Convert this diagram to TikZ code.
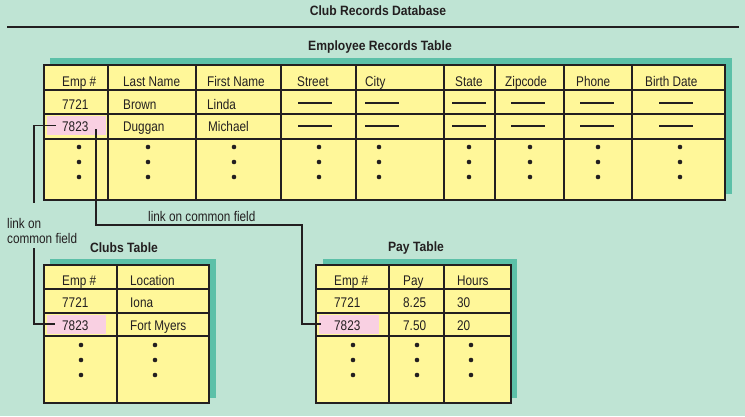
\documentclass[tikz,border=0pt]{standalone}
\usepackage{fontspec}
\setmainfont{Liberation Sans}[FakeStretch=0.84]
\newfontfamily\ttlfont{Liberation Sans}[FakeStretch=0.9]
\definecolor{bg}{HTML}{BFE4D4}
\definecolor{shade}{HTML}{5CC0A8}
\definecolor{cellc}{HTML}{FFF799}
\definecolor{pinkc}{HTML}{F9D0E2}
\definecolor{ink}{HTML}{231F20}
\begin{document}
\begin{tikzpicture}[x=1pt,y=-1pt,
  txt/.style={anchor=base west,inner sep=0pt,font=\fontsize{14}{15}\selectfont,text=ink},
  ttl/.style={anchor=base,inner sep=0pt,font=\ttlfont\bfseries\fontsize{13.5}{15}\selectfont,text=ink},
  tabline/.style={draw=ink,line width=1.5pt},
  shadowbox/.style={fill=shade},
  pinkcell/.style={fill=pinkc,draw=none,minimum width=59pt,minimum height=19pt,inner sep=0pt},
  dashln/.style={line width=2pt,draw=ink},
  link/.style={line width=1.7pt,draw=ink}]
\useasboundingbox (0,0) rectangle (745,416);
\fill[bg] (0,0) rectangle (745,416);

% titles
\node[ttl] (title) at (378,15) {Club Records Database};
\draw[line width=2pt,ink] (7,27) -- (739,27);
\node[ttl] (empTitle) at (380,50) {Employee Records Table};
\node[ttl] (clubTitle) at (124,252) {Clubs Table};
\node[ttl] (payTitle) at (416,251.5) {Pay Table};

% ---------- Employee table ----------
\fill[shadowbox] (50,58) rectangle (732,194);
\fill[cellc] (44,65) rectangle (725,200);
\node[pinkcell] (ePink) at (76.5,125.5) {};
\foreach \y in {90,114,139} \draw[tabline] (44,\y) -- (725,\y);
\foreach \x in {108,196,281,356,444,495,564,632} \draw[tabline] (\x,65) -- (\x,200);
\draw[tabline] (44,65) rectangle (725,200);
\foreach \t/\x [count=\i] in {Emp \#/62,Last Name/123,First Name/207,Street/297,City/365,State/455,Zipcode/505,Phone/576,Birth Date/645}
  \node[txt] (eh\i) at (\x,86) {\t};
\node[txt] (e11) at (62,109) {7721};
\node[txt] (e12) at (123,109) {Brown};
\node[txt] (e13) at (207,109) {Linda};
\node[txt] (e21) at (62,131.5) {7823};
\node[txt] (e22) at (123,131.5) {Duggan};
\node[txt] (e23) at (208,131.5) {Michael};
\foreach \x in {315,382,469,528,597,676}
  \foreach \y in {103,126}
    \draw[dashln] (\x-17,\y) -- (\x+17,\y);
\foreach \x in {79,148,234,319,379,469,530,598,680}
  \foreach \y in {147,162,177}
    \fill[ink] (\x,\y) circle (2.3);

% ---------- Clubs table ----------
\fill[shadowbox] (50,259) rectangle (216,398);
\fill[cellc] (44,265) rectangle (209,403);
\node[pinkcell] (cPink) at (76.5,324) {};
\foreach \y in {289,313,336} \draw[tabline] (44,\y) -- (209,\y);
\draw[tabline] (117,265) -- (117,403);
\draw[tabline] (44,265) rectangle (209,403);
\node[txt] (ch1) at (62,285) {Emp \#};
\node[txt] (ch2) at (130,285) {Location};
\node[txt] (c11) at (62,307) {7721};
\node[txt] (c12) at (130,307) {Iona};
\node[txt] (c21) at (62,330) {7823};
\node[txt] (c22) at (130,330) {Fort Myers};
\foreach \x in {81,155}
  \foreach \y in {345,360,375}
    \fill[ink] (\x,\y) circle (2.3);

% ---------- Pay table ----------
\fill[shadowbox] (323,259) rectangle (517,398);
\fill[cellc] (316,265) rectangle (511,403);
\node[pinkcell,minimum width=60pt] (pPink) at (349,324) {};
\foreach \y in {289,313,336} \draw[tabline] (316,\y) -- (511,\y);
\foreach \x in {389,444} \draw[tabline] (\x,265) -- (\x,403);
\draw[tabline] (316,265) rectangle (511,403);
\node[txt] (ph1) at (334,285) {Emp \#};
\node[txt] (ph2) at (403,285) {Pay};
\node[txt] (ph3) at (457,285) {Hours};
\node[txt] (p11) at (334,307) {7721};
\node[txt] (p12) at (403,307) {8.25};
\node[txt] (p13) at (457,307) {30};
\node[txt] (p21) at (334,330) {7823};
\node[txt] (p22) at (403,330) {7.50};
\node[txt] (p23) at (457,330) {20};
\foreach \x in {353,417,471}
  \foreach \y in {345,360,375}
    \fill[ink] (\x,\y) circle (2.3);

% ---------- connectors ----------
\draw[link] ([xshift=9pt]ePink.west) -- ++(-22,0) |- ([xshift=8pt]cPink.west);
\draw[link] ([xshift=-10pt,yshift=-3.5pt]ePink.east) -- ++(0,96) -- ++(206,0) |- ([xshift=2pt]pPink.west);
\node[txt,anchor=north west,align=left,fill=bg,inner xsep=2pt,inner ysep=0pt] (lblA) at (5,203)
  {\rule{0pt}{25pt}link on\\common field\rule[-5pt]{0pt}{5pt}};
\node[txt] (lblB) at (148,221) {link on common field};
\end{tikzpicture}
\end{document}
